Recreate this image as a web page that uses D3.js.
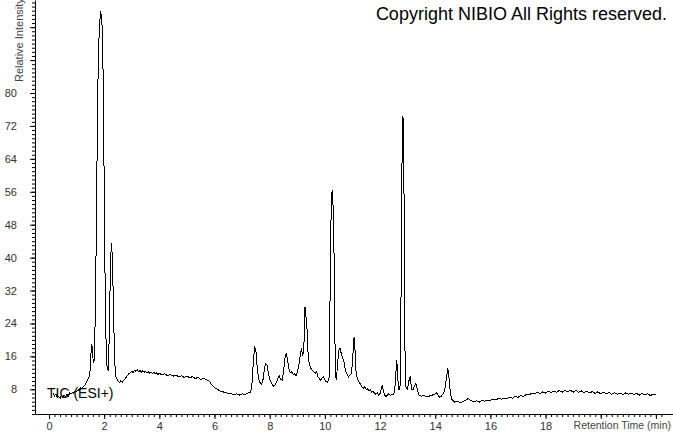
<!DOCTYPE html>
<html lang="en">
<head>
    <meta charset="utf-8"/>
    <title>TIC chromatogram</title>
    <script src="https://d3js.org/d3.v7.min.js"></script>
    <style>
        body { margin: 0; background: #fff; }
        text { font-family: "Liberation Sans", Arial, sans-serif; }
    </style>
</head>
<body>
<script>
    // retention time (min) vs relative intensity
    const tic = [
        [0.15, 7.0], [0.2, 6.4], [0.25, 6.8], [0.3, 6.0], [0.35, 6.3], [0.4, 5.8], [0.45, 6.5], [0.5, 6.1],
        [0.55, 6.6], [0.6, 6.2], [0.65, 6.9], [0.7, 6.4], [0.75, 7.1], [0.8, 6.8], [0.85, 7.3], [0.9, 7.0],
        [0.95, 7.6], [1.0, 7.4], [1.05, 7.9], [1.1, 7.7], [1.15, 8.3], [1.2, 8.1], [1.25, 8.7], [1.3, 9.0],
        [1.35, 9.6], [1.4, 10.2], [1.45, 11.0], [1.49, 12.5], [1.52, 16.5], [1.55, 19.0], [1.57, 18.0],
        [1.6, 15.0], [1.63, 14.5], [1.66, 20], [1.69, 32], [1.72, 50], [1.75, 70], [1.78, 85], [1.81, 93],
        [1.84, 97], [1.87, 100], [1.89, 99], [1.91, 98.5], [1.93, 95], [1.96, 85], [1.99, 65], [2.02, 42],
        [2.05, 25], [2.08, 16], [2.11, 13], [2.14, 12.6], [2.17, 17], [2.2, 28], [2.23, 38], [2.26, 43.5],
        [2.28, 42], [2.31, 36], [2.34, 27], [2.37, 17], [2.4, 12.5], [2.43, 11], [2.47, 10.4], [2.5, 10.0],
        [2.55, 9.6], [2.6, 10.1], [2.65, 9.7], [2.7, 10.2], [2.75, 10.5], [2.8, 10.9], [2.85, 11.4],
        [2.9, 11.8], [2.95, 12.1], [3.0, 12.3], [3.05, 12.1], [3.1, 12.6], [3.15, 12.4], [3.2, 12.7],
        [3.25, 12.3], [3.3, 12.6], [3.35, 12.2], [3.4, 12.5], [3.45, 12.1], [3.5, 12.4], [3.55, 12.0],
        [3.6, 12.3], [3.65, 11.9], [3.7, 12.2], [3.75, 11.8], [3.8, 12.1], [3.85, 11.7], [3.9, 12.0],
        [3.95, 11.6], [4.0, 11.9], [4.1, 11.5], [4.2, 11.8], [4.3, 11.3], [4.4, 11.6], [4.5, 11.2],
        [4.6, 11.5], [4.7, 11.0], [4.8, 11.3], [4.9, 10.9], [5.0, 11.2], [5.1, 10.8], [5.2, 11.1],
        [5.3, 10.6], [5.4, 10.9], [5.5, 10.4], [5.6, 10.7], [5.7, 10.3], [5.8, 10.1], [5.85, 9.6],
        [5.9, 9.1], [5.95, 8.7], [6.0, 8.4], [6.1, 8.0], [6.2, 7.6], [6.3, 7.4], [6.4, 7.2], [6.5, 7.0],
        [6.6, 6.9], [6.7, 6.7], [6.8, 6.9], [6.9, 6.6], [7.0, 6.9], [7.1, 6.7], [7.2, 7.1], [7.3, 7.3],
        [7.35, 8.5], [7.4, 14], [7.45, 18.2], [7.5, 17.5], [7.55, 13], [7.6, 10.5], [7.65, 9.6], [7.7, 9.2],
        [7.75, 10.0], [7.8, 12.5], [7.85, 14.3], [7.9, 14.0], [7.95, 12.0], [8.0, 10.5], [8.05, 9.8],
        [8.1, 9.0], [8.15, 8.7], [8.2, 9.2], [8.25, 9.8], [8.3, 10.8], [8.35, 11.2], [8.4, 10.4],
        [8.45, 10.2], [8.5, 12.0], [8.55, 15.5], [8.6, 16.8], [8.65, 15.0], [8.7, 13.0], [8.75, 12.0],
        [8.8, 12.3], [8.85, 11.6], [8.9, 11.8], [8.95, 11.3], [9.0, 12.2], [9.05, 13.5], [9.1, 16.0],
        [9.15, 18.0], [9.2, 16.0], [9.25, 20], [9.28, 28], [9.31, 26], [9.35, 23], [9.39, 17], [9.43, 14.3],
        [9.5, 13.0], [9.55, 12.6], [9.6, 12.2], [9.65, 11.9], [9.7, 12.3], [9.75, 11.0], [9.8, 10.6],
        [9.85, 10.2], [9.9, 10.8], [9.95, 11.0], [10.0, 10.3], [10.05, 9.8], [10.1, 9.7], [10.15, 10.5],
        [10.18, 25], [10.21, 45], [10.24, 55], [10.27, 56.5], [10.3, 52], [10.33, 42], [10.36, 22],
        [10.39, 11], [10.42, 10.6], [10.46, 14], [10.5, 17.5], [10.55, 18], [10.6, 16.5], [10.65, 15.5],
        [10.7, 14.5], [10.75, 12.5], [10.8, 11.8], [10.85, 11.0], [10.9, 11.4], [10.95, 11.8], [11.0, 14],
        [11.03, 18], [11.06, 20.7], [11.09, 18], [11.12, 13], [11.16, 11], [11.2, 10.2], [11.25, 9.6],
        [11.3, 9.2], [11.35, 8.6], [11.4, 8.3], [11.45, 8.6], [11.5, 7.9], [11.55, 8.1], [11.6, 7.6],
        [11.65, 7.8], [11.7, 7.3], [11.75, 7.5], [11.8, 7.0], [11.85, 6.8], [11.9, 7.1], [11.95, 6.6],
        [12.0, 7.0], [12.05, 8.3], [12.08, 8.8], [12.12, 7.6], [12.17, 6.5], [12.22, 6.2], [12.27, 6.6],
        [12.32, 6.9], [12.37, 6.5], [12.42, 6.8], [12.47, 6.7], [12.52, 7.2], [12.56, 10], [12.6, 15.2],
        [12.63, 13], [12.66, 9], [12.69, 7.8], [12.73, 9], [12.76, 30], [12.79, 60], [12.82, 74.5],
        [12.85, 73], [12.88, 45], [12.91, 12], [12.94, 8.6], [12.98, 8.0], [13.02, 9], [13.06, 10.5],
        [13.09, 11], [13.12, 9.5], [13.16, 7.8], [13.2, 8.0], [13.25, 8.8], [13.3, 9.4], [13.34, 8.4],
        [13.38, 7.2], [13.42, 6.6], [13.5, 6.3], [13.6, 6.5], [13.7, 6.1], [13.8, 6.4], [13.9, 6.6],
        [14.0, 6.9], [14.05, 7.1], [14.1, 6.6], [14.15, 6.1], [14.2, 6.2], [14.25, 6.6], [14.3, 7.0],
        [14.35, 8.0], [14.4, 10.5], [14.45, 12.8], [14.48, 12.4], [14.52, 9], [14.56, 6.8], [14.6, 5.6],
        [14.65, 5.2], [14.7, 4.9], [14.8, 5.1], [14.9, 4.8], [15.0, 5.0], [15.1, 5.3], [15.2, 5.8],
        [15.3, 5.2], [15.4, 5.0], [15.5, 5.2], [15.6, 4.9], [15.7, 5.3], [15.8, 5.1], [15.9, 5.4],
        [16.0, 5.3], [16.1, 5.6], [16.2, 5.4], [16.3, 5.8], [16.4, 5.6], [16.5, 5.9], [16.6, 5.7],
        [16.7, 6.1], [16.8, 5.8], [16.9, 6.3], [17.0, 6.0], [17.1, 6.5], [17.2, 6.2], [17.3, 6.8],
        [17.4, 6.6], [17.5, 7.1], [17.6, 6.9], [17.7, 7.3], [17.8, 7.0], [17.9, 7.4], [18.0, 7.1],
        [18.1, 7.5], [18.2, 7.2], [18.3, 7.6], [18.4, 7.3], [18.5, 7.7], [18.6, 7.3], [18.7, 7.7],
        [18.8, 7.4], [18.9, 7.8], [19.0, 7.3], [19.1, 7.7], [19.2, 7.3], [19.3, 7.6], [19.4, 7.2],
        [19.5, 7.6], [19.6, 7.1], [19.7, 7.5], [19.8, 7.0], [19.9, 7.4], [20.0, 6.9], [20.1, 7.3],
        [20.2, 6.9], [20.3, 7.2], [20.4, 6.8], [20.5, 7.2], [20.6, 6.8], [20.7, 7.1], [20.8, 6.7],
        [20.9, 7.1], [21.0, 6.8], [21.1, 7.1], [21.2, 6.7], [21.3, 7.0], [21.4, 6.6], [21.5, 7.0],
        [21.6, 6.6], [21.7, 6.9], [21.8, 6.5], [21.9, 6.8], [22.0, 6.6]
    ];

    // tick labels
    const xTickLabels = [0, 2, 4, 6, 8, 10, 12, 14, 16, 18];
    const yTickLabels = [8, 16, 24, 32, 40, 48, 56, 64, 72, 80];

    const width = 673, height = 433;
    const left = 35, bottom = 414;

    const svg = d3.select("body").append("svg")
        .attr("width", width)
        .attr("height", height);

    // 0 min sits at x=49, ~27.58 px per minute
    const x = d3.scaleLinear().domain([-0.508, 22.62]).range([left, width]);
    const y = d3.scaleLinear().domain([2, 102.6]).range([bottom, 0]);

    // minor ticks first, no labels
    svg.append("g")
        .attr("transform", `translate(0,${bottom})`)
        .call(d3.axisBottom(x).tickValues(d3.range(0, 112).map(i => i * 0.2)).tickSize(3).tickFormat(""))
        .call(g => g.select(".domain").remove());
    svg.append("g")
        .attr("transform", `translate(${left},0)`)
        .call(d3.axisLeft(y).tickValues(d3.range(2, 103)).tickSize(3).tickFormat(""))
        .call(g => g.select(".domain").remove());

    // major ticks with labels
    svg.append("g")
        .attr("transform", `translate(0,${bottom})`)
        .call(d3.axisBottom(x).tickValues(d3.range(0, 23, 2)).tickSize(5).tickSizeOuter(0).tickPadding(3)
            .tickFormat(d => xTickLabels.includes(d) ? d : ""));
    svg.append("g")
        .attr("transform", `translate(${left},0)`)
        .call(d3.axisLeft(y).tickValues(d3.range(8, 102, 8)).tickSize(5).tickSizeOuter(0).tickPadding(13)
            .tickFormat(d => yTickLabels.includes(d) ? d : ""));

    svg.selectAll(".tick line").attr("stroke", "#000");
    svg.selectAll(".domain").attr("stroke", "#000");
    svg.selectAll(".tick text")
        .attr("fill", "#333")
        .style("font-size", "11px")
        .style("font-family", "'Liberation Sans', Arial, sans-serif");

    // axis titles (the y one runs off the top edge, like the original)
    svg.append("text")
        .attr("transform", "translate(23,82) rotate(-90)")
        .attr("fill", "#444")
        .style("font-size", "11px")
        .text("Relative Intensity");
    svg.append("text")
        .attr("x", 671).attr("y", 429)
        .attr("text-anchor", "end")
        .attr("fill", "#444")
        .style("font-size", "10.5px")
        .text("Retention Time (min)");

    // the trace
    const line = d3.line().x(d => x(d[0])).y(d => y(d[1]));
    svg.append("path")
        .datum(tic)
        .attr("fill", "none")
        .attr("stroke", "#000")
        .attr("stroke-width", 1)
        .attr("shape-rendering", "crispEdges")
        .attr("d", line);

    svg.append("text")
        .attr("x", 47).attr("y", 398)
        .attr("fill", "#000")
        .style("font-size", "14px")
        .text("TIC (ESI+)");

    svg.append("text")
        .attr("x", 667).attr("y", 20)
        .attr("text-anchor", "end")
        .attr("fill", "#000")
        .style("font-size", "18px")
        .text("Copyright NIBIO All Rights reserved.");
</script>
</body>
</html>
